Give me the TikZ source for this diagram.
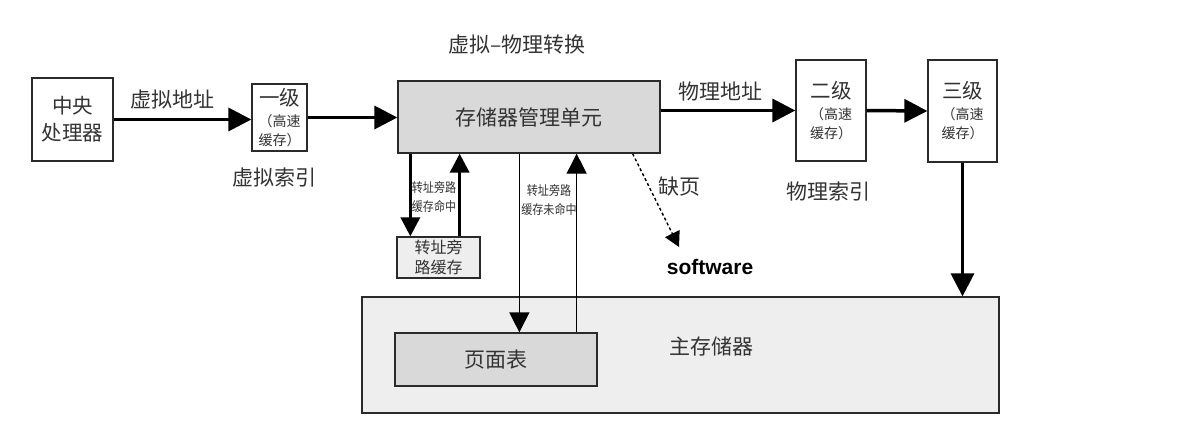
\documentclass[tikz,border=0pt]{standalone}
\usepackage{fontspec}
\setmainfont{Noto Sans CJK SC}
\newfontfamily\swfont{Liberation Sans}
\usetikzlibrary{arrows.meta}
\definecolor{txt}{HTML}{333333}
\definecolor{edge}{HTML}{2A2A2A}
\definecolor{darkfill}{HTML}{D9D9D9}
\definecolor{lightfill}{HTML}{EEEEEE}
\newcommand{\lvlfont}{\fontsize{20.5}{22}\selectfont}
\newcommand{\parenfont}{\fontsize{14}{19}\selectfont}
\begin{document}
\begin{tikzpicture}[x=1pt,y=-1pt,
  box/.style={draw=edge,line width=1.3pt,inner sep=0pt,text=txt,align=center},
  lbl/.style={text=txt,font=\fontsize{21}{22}\selectfont,inner sep=0pt},
  cache/.style={box,font=\parenfont},
  small/.style={text=txt,font=\fontsize{13}{19}\selectfont,inner sep=0pt,align=center,xscale=0.85},
  bigarrow/.style={line width=3.5pt,-{Triangle[length=23pt,width=23pt]}},
  midarrow/.style={line width=3.5pt,-{Triangle[length=19pt,width=19pt]}},
  thinarrow/.style={line width=1.3pt,-{Triangle[length=20pt,width=20pt]}},
  dasharrow/.style={line width=1.4pt,dash pattern=on 3pt off 2.5pt,-{Triangle[length=15pt,width=16pt]}}
]
\useasboundingbox (0,0) rectangle (1180,440);
\fill[white] (0,0) rectangle (1180,440);

% boxes
\node[box,minimum width=637pt,minimum height=116pt,fill=lightfill] (mem) at (680.5,355) {};
\node[lbl] (memlbl) at (711,346) {主存储器};
\node[box,minimum width=202pt,minimum height=53pt,fill=darkfill,font=\fontsize{21}{22}\selectfont] (pt) at (496,359.5) {页面表};

\node[box,minimum width=81pt,minimum height=83pt,font=\fontsize{20.5}{27}\selectfont] (cpu) at (72.5,119.5) {中央\\处理器};
\node[cache,minimum width=55pt,minimum height=67pt] (l1) at (279.5,117.5)
  {{\lvlfont 一级}\\[2pt]（高速\\缓存）};
\node[box,minimum width=262pt,minimum height=72pt,fill=darkfill,font=\fontsize{21}{22}\selectfont] (mmu) at (529,117) {存储器管理单元};
\node[cache,minimum width=70pt,minimum height=101pt] (l2) at (831,110.5)
  {{\lvlfont 二级}\\[2pt]（高速\\缓存）};
\node[cache,minimum width=69pt,minimum height=102pt] (l3) at (962.5,111)
  {{\lvlfont 三级}\\[2pt]（高速\\缓存）};
\node[box,minimum width=83pt,minimum height=41pt,fill=lightfill,font=\fontsize{16}{20}\selectfont] (tlb) at (438.5,257.5) {转址旁\\路缓存};

% labels
\node[lbl] (title) at (517,45) {虚拟–物理转换};
\node[lbl] (va) at (172,100) {虚拟地址};
\node[lbl] (vi) at (274,178) {虚拟索引};
\node[lbl] (pa) at (720,92) {物理地址};
\node[lbl] (pi) at (828,192) {物理索引};
\node[lbl] (pf) at (679,187) {缺页};
\node[text=black,inner sep=0pt,font=\swfont\bfseries\fontsize{21}{24}\selectfont] (sw) at (710,267) {software};
\node[small] (hit) at (434,197.5) {转址旁路\\缓存命中};
\node[small] (miss) at (549,200) {转址旁路\\缓存未命中};

% connectors
\draw[bigarrow] (cpu.east) -- (cpu.east -| l1.west);
\draw[bigarrow] (l1.east) -- (l1.east -| mmu.west);
\draw[bigarrow] (mmu.east |- l2.center) -- (l2.west);
\draw[bigarrow] (l2.east) -- (l3.west);
\draw[bigarrow] (l3.south) -- (l3.south |- mem.north);

\draw[midarrow] ([xshift=14pt]tlb.north west |- mmu.south) -- ([xshift=14pt]tlb.north west);
\draw[midarrow] ([xshift=-21pt]tlb.north east) -- ([xshift=-21pt]tlb.north east |- mmu.south);

\draw[thinarrow] ([xshift=125pt]pt.north west |- mmu.south) -- ([xshift=125pt]pt.north west);
\draw[thinarrow] ([xshift=-21pt]pt.north east) -- ([xshift=-21pt]pt.north east |- mmu.south);

\coordinate (pftip) at (679,247);
\draw[dasharrow] ([xshift=-28pt]mmu.south east) -- (pftip);
\end{tikzpicture}
\end{document}
